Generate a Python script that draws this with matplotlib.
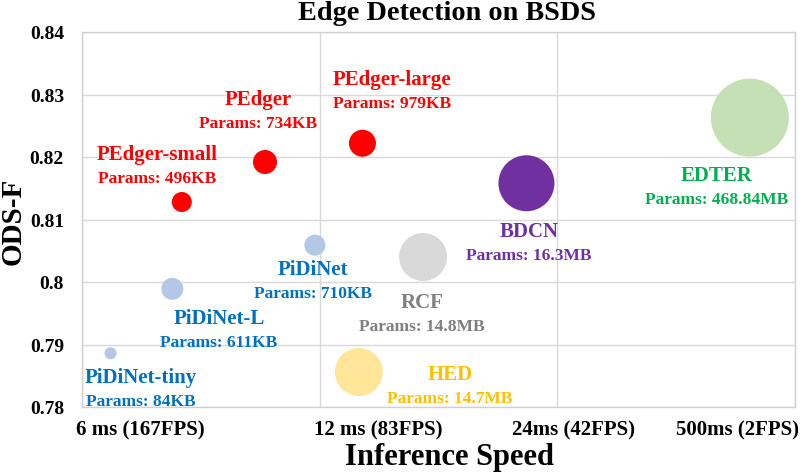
import matplotlib
matplotlib.use("Agg")
import matplotlib.pyplot as plt

plt.rcParams['font.family'] = ['Liberation Serif', 'DejaVu Serif']
plt.rcParams['font.weight'] = 'bold'

# data
models = ["PiDiNet-tiny", "PiDiNet-L", "PiDiNet", "PEdger-small", "PEdger",
          "PEdger-large", "RCF", "HED", "BDCN", "EDTER"]
params = ["84KB", "611KB", "710KB", "496KB", "734KB", "979KB",
          "14.8MB", "14.7MB", "16.3MB", "468.84MB"]
speed = [0.12, 0.38, 0.98, 0.42, 0.77, 1.18, 1.435, 1.165, 1.87, 2.81]
ods_f = [0.7886, 0.7989, 0.8059, 0.8128, 0.8192, 0.8222, 0.8040, 0.7856, 0.8158, 0.8263]
bubble_r = [6, 11, 10.5, 10, 12, 13.5, 24, 24, 28, 39]  # radius in pixels

speed_labels = ["6 ms (167FPS)", "12 ms (83FPS)", "24ms (42FPS)", "500ms (2FPS)"]
speed_label_pos = [0.244, 1.245, 2.066, 2.760]
y_ticks = [0.78, 0.79, 0.80, 0.81, 0.82, 0.83, 0.84]
y_tick_labels = ["0.78", "0.79", "0.8", "0.81", "0.82", "0.83", "0.84"]

# styles
fill_col = ["#B4C7E7", "#B4C7E7", "#B4C7E7", "#FF0000", "#FF0000", "#FF0000",
            "#D9D9D9", "#FFE699", "#7030A0", "#C5E0B4"]
text_col = ["#0070C0", "#0070C0", "#0070C0", "#FF0000", "#FF0000", "#FF0000",
            "#7F7F7F", "#FFC000", "#7030A0", "#00B050"]
# label centre (name line) in pixels of the 805x477 picture
label_px = [(141, 378), (219, 319), (313, 270), (157, 155), (258, 100),
            (392, 80), (422, 303), (450, 375), (529, 232), (717, 176)]

W, H = 805, 477
L, R, T, B = 82, 795, 33, 408

fig = plt.figure(figsize=(W / 100, H / 100), dpi=100)
ax = fig.add_axes([L / W, 1 - B / H, (R - L) / W, (B - T) / H])
ax.set_xlim(0, 3)
ax.set_ylim(0.78, 0.84)

sizes = [(2 * r * 0.72) ** 2 for r in bubble_r]
ax.scatter(speed, ods_f, s=sizes, c=fill_col, linewidths=0, zorder=3)

def px2data(px, py):
    return (px - L) / (R - L) * 3, 0.84 - (py - T) / (B - T) * 0.06

for name, p, (px, py), col in zip(models, params, label_px, text_col):
    x0, y0 = px2data(px, py)
    x1, y1 = px2data(px, py + 24)
    ax.text(x0, y0, name, color=col, fontsize=15, ha='center', va='center', zorder=4)
    ax.text(x1, y1, "Params: " + p, color=col, fontsize=12.5, ha='center', va='center', zorder=4)

ax.set_xticks([0, 1, 2, 3], minor=True)
ax.set_xticks(speed_label_pos)
ax.set_xticklabels(speed_labels, fontsize=15)
ax.set_yticks(y_ticks)
ax.set_yticklabels(y_tick_labels, fontsize=14)
ax.tick_params(axis='both', which='both', length=0)
ax.tick_params(axis='x', pad=9)
ax.tick_params(axis='y', pad=13)
ax.grid(False, axis='x', which='major')
ax.grid(True, axis='x', which='minor', color='#D9D9D9', linewidth=1)
ax.grid(True, axis='y', which='major', color='#D9D9D9', linewidth=1)
ax.set_axisbelow(True)
for s in ax.spines.values():
    s.set_color('#D0D0D0')
    s.set_linewidth(1)

fig.text(447 / W, 1 - 13.5 / H, "Edge Detection on BSDS", fontsize=20.3, ha='center', va='center')
fig.text(449 / W, 1 - 457.5 / H, "Inference Speed", fontsize=22, ha='center', va='center')
fig.text(13 / W, 1 - 221 / H, "ODS-F", fontsize=21, rotation=90, ha='center', va='center')

fig.savefig("out.png", dpi=100)
